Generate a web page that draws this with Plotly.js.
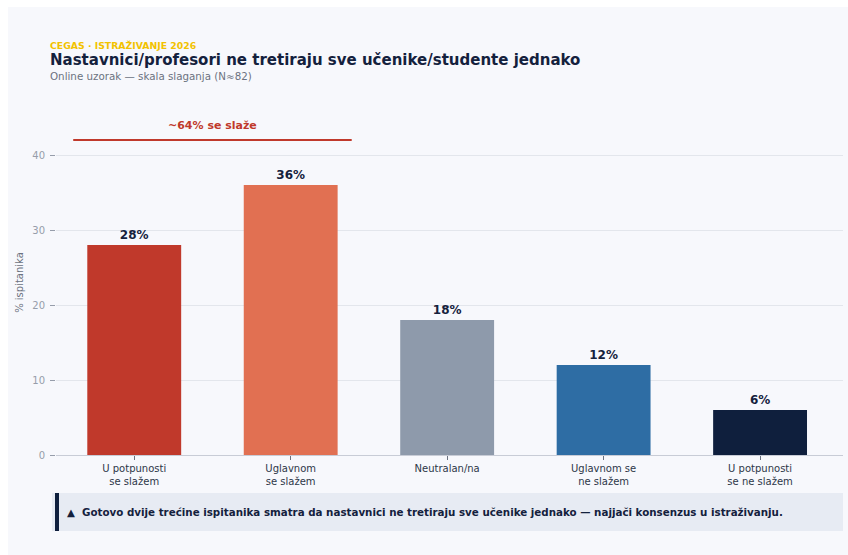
<!DOCTYPE html>
<html>
<head>
<meta charset="utf-8">
<script src="https://cdn.plot.ly/plotly-3.0.1.min.js"></script>
<style>
  html, body { margin: 0; padding: 0; background: #ffffff; }
  #card { position: absolute; left: 8px; top: 7px; width: 840px; height: 548px; background: #f7f8fc; }
  #chart { width: 840px; height: 548px; }
</style>
</head>
<body>
<div id="card"><div id="chart"></div></div>
<script>
// ---- data ----
const categories = ["U potpunosti<br>se slažem", "Uglavnom<br>se slažem", "Neutralan/na", "Uglavnom se<br>ne slažem", "U potpunosti<br>se ne slažem"];
const values = [28, 36, 18, 12, 6];
const valueLabels = ["28%", "36%", "18%", "12%", "6%"];
const barColors = ["#c0392b", "#e17052", "#8e9aab", "#2e6da4", "#0f1f3d"];
const yTicks = [0, 10, 20, 30, 40];
const agreeLabel = "~64% se slaže";
const kicker = "CEGAS · ISTRAŽIVANJE 2026";
const titleText = "Nastavnici/profesori ne tretiraju sve učenike/studente jednako";
const subtitle = "Online uzorak — skala slaganja (N≈82)";
const callout = "▲  Gotovo dvije trećine ispitanika smatra da nastavnici ne tretiraju sve učenike jednako — najjači konsenzus u istraživanju.";

// ---- layout geometry (pixels inside the 840x548 chart div) ----
const W = 840, H = 548;
const M = { l: 48, r: 5, t: 103, b: 100 };
const PW = W - M.l - M.r, PH = H - M.t - M.b;
const px = x => (x - M.l) / PW;          // div x pixel -> paper x
const py = y => (H - M.b - y) / PH;      // div y pixel -> paper y

const font = "DejaVu Sans, sans-serif";

const trace = {
  type: "bar",
  x: categories,
  y: values,
  width: 0.6,
  marker: { color: barColors, line: { width: 0 } },
  text: valueLabels,
  textposition: "outside",
  textfont: { family: font, size: 12, color: "#14213d", weight: "bold" },
  cliponaxis: false,
  hoverinfo: "skip"
};

const layout = {
  width: W, height: H,
  margin: M,
  paper_bgcolor: "rgba(0,0,0,0)",
  plot_bgcolor: "rgba(0,0,0,0)",
  font: { family: font },
  showlegend: false,
  bargap: 0.4,
  xaxis: {
    type: "category",
    range: [-0.5, 4.53],
    tickfont: { family: font, size: 10, color: "#2d3748" },
    ticks: "outside", ticklen: 4, tickcolor: "#6b7280",
    showline: true, linecolor: "#c8ccd6", linewidth: 1,
    showgrid: false, fixedrange: true
  },
  yaxis: {
    range: [0, 46],
    tickvals: yTicks,
    tickfont: { family: font, size: 10, color: "#969daa" },
    ticks: "outside", ticklen: 5, tickcolor: "#969daa",
    ticklabelstandoff: 3,
    gridcolor: "#e3e6ec", gridwidth: 1,
    zeroline: false, showline: false,
    title: { text: "% ispitanika", font: { family: font, size: 10, color: "#6b7280" }, standoff: 6 },
    fixedrange: true
  },
  shapes: [
    { type: "line", xref: "x", yref: "y", x0: -0.39, x1: 1.39, y0: 42, y1: 42,
      line: { color: "#c0392b", width: 2 } },
    { type: "rect", xref: "paper", yref: "paper", x0: px(44), x1: px(835), y0: py(486), y1: py(524),
      fillcolor: "#e7ebf3", line: { width: 0 }, layer: "below" },
    { type: "rect", xref: "paper", yref: "paper", x0: px(47), x1: px(51), y0: py(486), y1: py(524),
      fillcolor: "#0f1f3d", line: { width: 0 } }
  ],
  annotations: [
    { xref: "x", yref: "y", x: 0.5, y: 43.9, text: agreeLabel, showarrow: false,
      font: { family: font, size: 11, color: "#c0392b", weight: "bold" } },
    { xref: "paper", yref: "paper", x: px(40), y: py(38), xanchor: "left", yanchor: "middle",
      text: kicker, showarrow: false, font: { family: font, size: 9.3, color: "#f2c200", weight: "bold" } },
    { xref: "paper", yref: "paper", x: px(40), y: py(53), xanchor: "left", yanchor: "middle",
      text: titleText, showarrow: false, font: { family: font, size: 15, color: "#14213d", weight: "bold" } },
    { xref: "paper", yref: "paper", x: px(40), y: py(69), xanchor: "left", yanchor: "middle",
      text: subtitle, showarrow: false, font: { family: font, size: 10.3, color: "#6b7280" } },
    { xref: "paper", yref: "paper", x: px(57), y: py(505), xanchor: "left", yanchor: "middle",
      text: callout, showarrow: false, font: { family: font, size: 10.3, color: "#14213d", weight: "bold" } }
  ]
};

Plotly.newPlot("chart", [trace], layout, { displayModeBar: false, staticPlot: true });
</script>
</body>
</html>
